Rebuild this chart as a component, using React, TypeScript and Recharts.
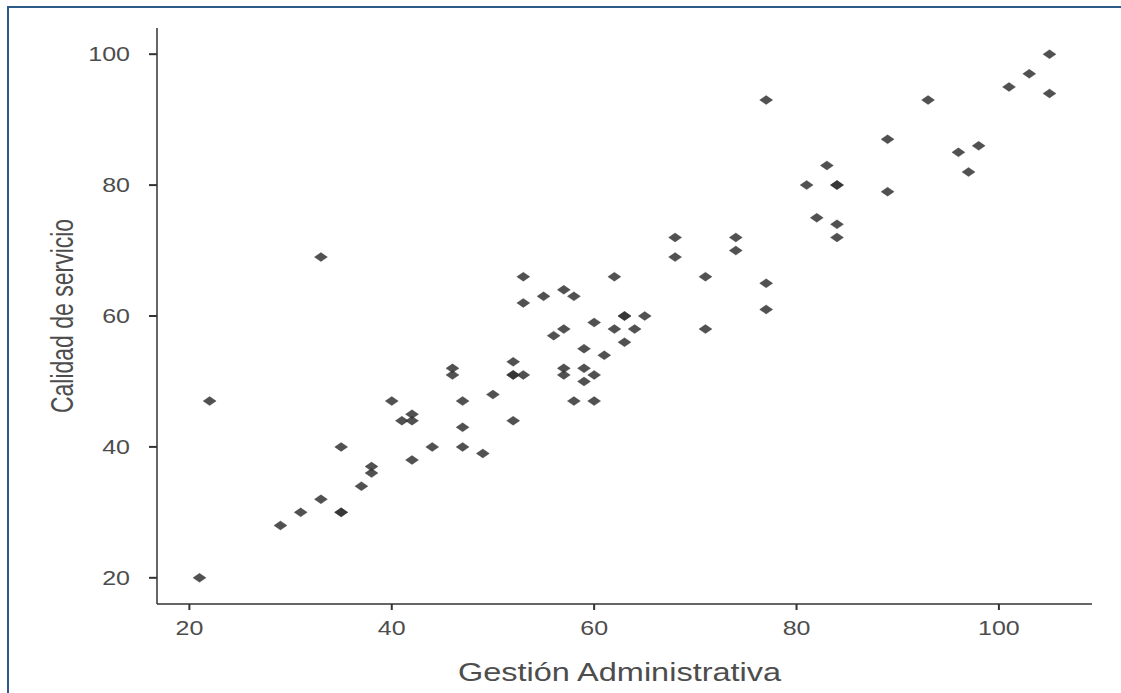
import { ScatterChart, Scatter, XAxis, YAxis } from "recharts";

// Gestión Administrativa (x) vs Calidad de servicio (y)
const gestion = [
  21, 22, 29, 31, 33, 33, 35, 35, 35, 37, 38, 38, 40, 41, 42, 42, 42, 44, 46, 46,
  47, 47, 47, 49, 50, 52, 52, 52, 53, 52, 53, 53, 55, 56, 57, 58, 57, 57, 57, 58,
  59, 59, 59, 60, 60, 60, 61, 62, 62, 63, 63, 63, 64, 65, 68, 68, 71, 71, 74, 74,
  77, 77, 77, 81, 82, 83, 84, 84, 84, 84, 89, 89, 93, 96, 97, 98, 101, 103, 105, 105,
];
const calidad = [
  20, 47, 28, 30, 32, 69, 40, 30, 30, 34, 37, 36, 47, 44, 45, 44, 38, 40, 52, 51,
  47, 43, 40, 39, 48, 53, 51, 51, 51, 44, 66, 62, 63, 57, 64, 63, 58, 52, 51, 47,
  55, 52, 50, 59, 51, 47, 54, 66, 58, 60, 60, 56, 58, 60, 72, 69, 66, 58, 72, 70,
  65, 61, 93, 80, 75, 83, 80, 80, 74, 72, 87, 79, 93, 85, 82, 86, 95, 97, 100, 94,
];
const xTicks = [20, 40, 60, 80, 100];
const yTicks = [20, 40, 60, 80, 100];

const points = gestion.map((g, i) => ({ gestion: g, calidad: calidad[i] }));

const FONT = '"Liberation Sans", Arial, sans-serif';
const TEXT = "#4d4d4d";

function Point(props: any) {
  const { cx, cy } = props;
  if (cx == null || cy == null) return null;
  const w = 6.5;
  const h = 4.5;
  return (
    <path
      d={`M${cx - w},${cy} L${cx},${cy - h} L${cx + w},${cy} L${cx},${cy + h} Z`}
      fill="#333"
      fillOpacity={0.85}
      stroke="#333"
      strokeOpacity={0.4}
      strokeWidth={0.8}
    />
  );
}

function XTick(props: any) {
  const { x, y, payload } = props;
  return (
    <g transform={`translate(${x},${y}) scale(1.25,1)`}>
      <text x={0} y={0} dy="0.71em" textAnchor="middle" fill={TEXT} fontSize={20} fontFamily={FONT}>
        {payload.value}
      </text>
    </g>
  );
}

function YTick(props: any) {
  const { x, y, payload } = props;
  return (
    <g transform={`translate(${x},${y}) scale(1.25,1)`}>
      <text x={0} y={0} dy="0.36em" textAnchor="end" fill={TEXT} fontSize={20} fontFamily={FONT}>
        {payload.value}
      </text>
    </g>
  );
}

function XTitle(props: any) {
  const vb = props.viewBox || {};
  const cx = vb.x + vb.width / 2 - 5;
  return (
    <g transform={`translate(${cx},${vb.y + 77}) scale(1.3,1)`}>
      <text x={0} y={0} textAnchor="middle" fill={TEXT} fontSize={25} fontFamily={FONT}>
        Gestión Administrativa
      </text>
    </g>
  );
}

function YTitle(props: any) {
  const vb = props.viewBox || {};
  const cy = vb.y + vb.height / 2;
  return (
    <g transform={`translate(73,${cy}) rotate(-90) scale(1,1.35)`}>
      <text x={0} y={0} textAnchor="middle" fill={TEXT} fontSize={23} fontFamily={FONT}>
        Calidad de servicio
      </text>
    </g>
  );
}

export default function App() {
  return (
    <div style={{ position: "absolute", left: 0, top: 0, width: 1121, height: 693, background: "#fff", overflow: "hidden" }}>
      <div
        style={{
          position: "absolute",
          left: 7,
          top: 6,
          width: 1200,
          height: 800,
          borderTop: "2px solid #2c5b8a",
          borderLeft: "2px solid #2c5b8a",
          pointerEvents: "none",
        }}
      />
      <ScatterChart width={1121} height={693} margin={{ top: 28, right: 29, bottom: 0, left: 0 }}>
        <XAxis
          type="number"
          dataKey="gestion"
          domain={[16.8, 109.2]}
          ticks={xTicks}
          allowDataOverflow
          height={89}
          axisLine={{ stroke: "#333", strokeWidth: 1.5 }}
          tickLine={{ stroke: "#333", strokeWidth: 2 }}
          tickSize={6}
          tickMargin={11}
          tick={<XTick />}
          label={<XTitle />}
        />
        <YAxis
          type="number"
          dataKey="calidad"
          domain={[16, 104]}
          ticks={yTicks}
          allowDataOverflow
          width={157}
          axisLine={{ stroke: "#333", strokeWidth: 1.5 }}
          tickLine={{ stroke: "#333", strokeWidth: 2 }}
          tickSize={8}
          tickMargin={19}
          tick={<YTick />}
          label={<YTitle />}
        />
        <Scatter data={points} shape={<Point />} isAnimationActive={false} />
      </ScatterChart>
    </div>
  );
}
